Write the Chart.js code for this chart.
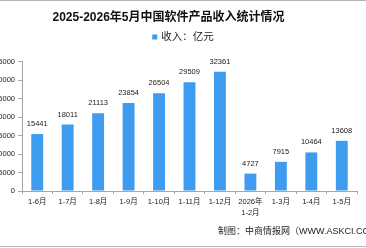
<!DOCTYPE html>
<html>
<head>
<meta charset="utf-8">
<script src="https://cdn.jsdelivr.net/npm/chart.js@4/dist/chart.umd.min.js"></script>
<style>
  html, body { margin: 0; padding: 0; background: #fff; }
  body { width: 366px; height: 248px; overflow: hidden; position: relative; }
  #wrap { position: absolute; left: -20px; top: 0; width: 406px; height: 248px; }
  .line { position: absolute; left: 0; width: 366px; height: 1px; background: #b4b4b4; }
</style>
</head>
<body>
<div class="line" style="top:0"></div>
<div class="line" style="top:246px"></div>
<div id="wrap"><canvas id="bar-chart" width="406" height="248"></canvas></div>
<script>
// 数据
var periodos = ['1-6月', '1-7月', '1-8月', '1-9月', '1-10月', '1-11月', '1-12月', ['2026年', '1-2月'], '1-3月', '1-4月', '1-5月'];
var ingresos = [15441, 18011, 21113, 23854, 26504, 29509, 32361, 4727, 7915, 10464, 13608];
var ticks_y = [0, 5000, 10000, 15000, 20000, 25000, 30000, 35000];

var fuente = "'Liberation Sans', 'Noto Sans CJK SC', sans-serif";
var gris = '#a6a6a6';
var azul = '#3d9bf0';

// etiquetas encima de cada barra
var etiquetas = {
  id: 'etiquetas',
  afterDatasetsDraw: function(chart){
    var ctx = chart.ctx;
    var meta = chart.getDatasetMeta(0);
    ctx.save();
    ctx.font = '7.5px ' + fuente;
    ctx.fillStyle = '#1a1a1a';
    ctx.textAlign = 'center';
    ctx.textBaseline = 'middle';
    meta.data.forEach(function(bar, i){
      ctx.fillText(ingresos[i], bar.x, bar.y - 10);
    });
    ctx.restore();
  }
};

// leyenda bajo el titulo
var leyenda = {
  id: 'leyenda',
  afterDraw: function(chart){
    var ctx = chart.ctx;
    var ds = chart.data.datasets[0];
    ctx.save();
    ctx.font = '10.5px ' + fuente;
    var w = ctx.measureText(ds.label).width;
    var x0 = chart.width / 2 - (w + 9) / 2;
    ctx.fillStyle = ds.backgroundColor;
    ctx.fillRect(x0, 34.5, 5, 5);
    ctx.fillStyle = '#222';
    ctx.textAlign = 'left';
    ctx.textBaseline = 'middle';
    ctx.fillText(ds.label, x0 + 9, 37);
    ctx.restore();
  }
};

// pie de grafica
var pie = {
  id: 'pie',
  afterDraw: function(chart){
    var ctx = chart.ctx;
    ctx.save();
    ctx.font = '9px ' + fuente;
    ctx.fillStyle = '#222';
    ctx.textAlign = 'left';
    ctx.textBaseline = 'middle';
    ctx.fillText('制图：中商情报网（WWW.ASKCI.COM）', 238, 232);
    ctx.restore();
  }
};

var chartdata = {
  labels: periodos,
  datasets: [
    {
      label: '收入：亿元',
      backgroundColor: azul,
      borderWidth: 0,
      data: ingresos,
      barPercentage: 0.39,
      categoryPercentage: 1
    }
  ]
};

var ctx = document.getElementById('bar-chart');

var barGraph = new Chart(ctx, {
  type: 'bar',
  data: chartdata,
  plugins: [etiquetas, leyenda, pie],
  options: {
    responsive: false,
    animation: false,
    devicePixelRatio: 1,
    layout: { padding: { left: 0, right: 29, top: 0, bottom: 0 } },
    plugins: {
      title: {
        display: true,
        text: '2025-2026年5月中国软件产品收入统计情况',
        color: '#111',
        font: { family: fuente, size: 12, weight: 'bold', lineHeight: 1.2 },
        padding: { top: 10.8, bottom: 36.8 }
      },
      legend: { display: false },
      tooltip: { enabled: false }
    },
    scales: {
      x: {
        grid: { display: true, drawOnChartArea: false, drawTicks: true, tickLength: 3, color: gris, offset: true },
        border: { color: gris },
        ticks: {
          color: '#1a1a1a',
          font: { family: fuente, size: 7.5, lineHeight: 1.5 },
          padding: 2,
          maxRotation: 0,
          autoSkip: false
        },
        afterFit: function(scale){ scale.height = 57; }
      },
      y: {
        min: 0,
        max: 35000,
        grid: { display: true, drawOnChartArea: false, drawTicks: true, tickLength: 4, color: gris },
        border: { color: gris },
        ticks: {
          color: '#1a1a1a',
          font: { family: fuente, size: 7.5 },
          padding: 3,
          stepSize: 5000,
          callback: function(v){ return String(v); }
        },
        afterBuildTicks: function(scale){
          scale.ticks = ticks_y.map(function(v){ return { value: v }; });
        },
        afterFit: function(scale){ scale.width = 42; }
      }
    }
  }
});
</script>
</body>
</html>
